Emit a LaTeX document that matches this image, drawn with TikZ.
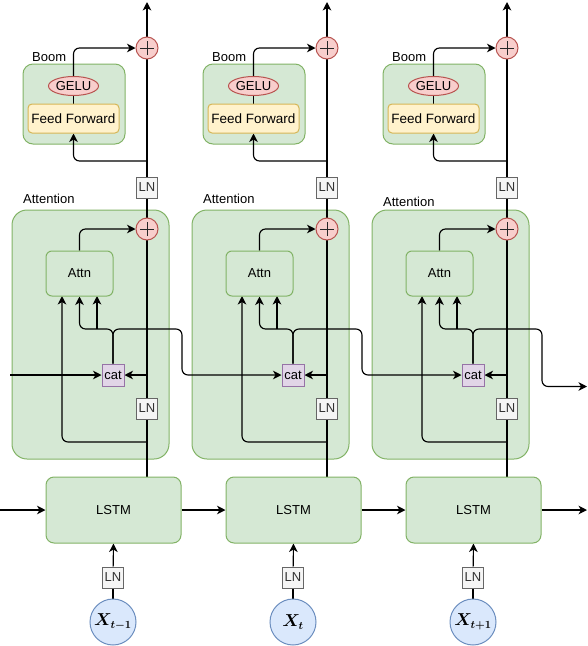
\documentclass[tikz,border=0pt]{standalone}
\usepackage{fontspec}
\setmainfont{Liberation Sans}
\usepackage{bm}
\usetikzlibrary{arrows.meta,shapes.geometric}
\pgfdeclarelayer{cont}
\pgfdeclarelayer{edge}
\pgfsetlayers{cont,edge,main}
\definecolor{gfill}{HTML}{D5E8D4}
\definecolor{gline}{HTML}{82B366}
\definecolor{yfill}{HTML}{FFF2CC}
\definecolor{yline}{HTML}{D6B656}
\definecolor{rfill}{HTML}{F8CECC}
\definecolor{rline}{HTML}{B85450}
\definecolor{pfill}{HTML}{E1D5E7}
\definecolor{pline}{HTML}{9673A6}
\definecolor{bfill}{HTML}{DAE8FC}
\definecolor{bline}{HTML}{6C8EBF}
\definecolor{lnfill}{HTML}{F5F5F5}
\definecolor{lnline}{HTML}{666666}
\definecolor{lntext}{HTML}{333333}
\tikzset{
  contbox/.style={draw=gline, fill=gfill, line width=1pt, inner sep=0pt},
  greenbox/.style={draw=gline, fill=gfill, line width=1pt, inner sep=0pt},
  ffbox/.style={draw=yline, fill=yfill, line width=1pt, rounded corners=4pt, inner sep=0pt,
     minimum width=91, minimum height=29, font=\fontsize{13.5}{15}\selectfont},
  geluel/.style={ellipse, draw=rline, fill=rfill, line width=1pt, inner sep=0pt,
     minimum width=46, minimum height=19},
  plusc/.style={circle, draw=rline, fill=rfill, line width=1pt, inner sep=0pt, minimum size=22,
     path picture={\draw[line width=1pt, black!85]
       ([xshift=-7pt]path picture bounding box.center) -- ([xshift=7pt]path picture bounding box.center)
       ([yshift=-7pt]path picture bounding box.center) -- ([yshift=7pt]path picture bounding box.center);}},
  lnbox/.style={draw=lnline, fill=lnfill, line width=1pt, inner sep=0pt, minimum size=21, text=lntext},
  catbox/.style={draw=pline, fill=pfill, line width=1pt, inner sep=0pt, minimum size=22},
  xcirc/.style={circle, draw=bline, fill=bfill, line width=1pt, inner sep=0pt, minimum size=46,
     font=\fontsize{16}{18}\selectfont},
  conn/.style={line width=1.15pt, rounded corners=6pt},
  arr/.style={conn, -{Stealth[length=8.5pt,width=8.5pt,inset=2.5pt]}},
  lbl/.style={anchor=west, inner sep=0pt}
}
\begin{document}
\begin{tikzpicture}[x=1pt, y=-1pt, font=\fontsize{13}{15}\selectfont]
\useasboundingbox (0,0) rectangle (588,646);
\foreach \i/\lab/\ay in {0/{t-1}/199, 1/{t}/199, 2/{t+1}/202} {
  \pgfmathsetmacro\dx{180*\i}
  \begin{pgfonlayer}{cont}
    \node[contbox, rounded corners=15pt, minimum width=157, minimum height=249] (att\i) at (\dx+90.5, 334.5) {};
    \node[contbox, rounded corners=10pt, minimum width=102, minimum height=80] (boom\i) at (\dx+74, 104) {};
  \end{pgfonlayer}
  \node[lbl] (boomlbl\i) at (\dx+32, 57) {Boom};
  \node[lbl] (attlbl\i) at (\dx+23, \ay) {Attention};
  \node[geluel] (gelu\i) at (\dx+73.5, 86) {GELU};
  \node[ffbox] (ff\i) at (\dx+73.5, 118.5) {Feed Forward};
  \node[plusc] (pb\i) at (\dx+147, 48) {};
  \node[lnbox] (lnu\i) at (\dx+147, 187.5) {LN};
  \node[plusc] (pa\i) at (\dx+147, 229) {};
  \node[greenbox, rounded corners=6pt, minimum width=67, minimum height=45] (attn\i) at (\dx+79.5, 273.5) {Attn};
  \node[catbox] (cat\i) at (\dx+113, 375) {cat};
  \node[lnbox] (lnl\i) at (\dx+147, 408.5) {LN};
  \node[greenbox, rounded corners=8pt, minimum width=135, minimum height=66] (lstm\i) at (\dx+113.5, 510) {LSTM};
  \node[lnbox] (lnb\i) at (\dx+113, 577.5) {LN};
  \node[xcirc] (x\i) at (\dx+113, 622) {$\bm{X_{\lab}}$};
  \coordinate (mb\i) at (\dx+147, 477);
  \coordinate (top\i) at (\dx+147, 2);
  \coordinate (fb\i) at (\dx+147, 161);
  \coordinate (cr\i) at (\dx+147, 375);
  \coordinate (al\i) at (\dx+147, 442);
  \coordinate (br\i) at (\dx+182, 329);
  \coordinate (bl\i) at (\dx+79.5, 329);
  \coordinate (ain\i) at (\dx+97, 296);
  \coordinate (aim\i) at (\dx+97, 329);
  \coordinate (ail\i) at (\dx+62, 296);
  \begin{pgfonlayer}{edge}
    \draw[arr] (mb\i) -- (top\i);
    \draw[arr] (fb\i) -| (ff\i.south);
    \draw[conn] (ff\i.north) -- (gelu\i.south);
    \draw[arr] (gelu\i.north) |- (pb\i.west);
    \draw[arr] (attn\i.north) |- (pa\i.west);
    \draw[arr] (cr\i) -- (cat\i.east);
    \draw[arr] (al\i) -| (ail\i);
    \draw[arr] (cat\i.north) |- (bl\i) -- (attn\i.south);
    \draw[arr] (aim\i) -- (ain\i);
    \draw[conn] (x\i) -- (lnb\i);
    \draw[arr] (lnb\i) -- (lstm\i.south);
  \end{pgfonlayer}
}
\coordinate (inL) at (10, 375);
\coordinate (lin) at (0, 510);
\coordinate (lout) at (587, 510);
\coordinate (cout) at (587, 386.5);
\begin{pgfonlayer}{edge}
  \draw[arr] (inL) -- (cat0.west);
  \draw[arr] (lin) -- (lstm0.west);
  \draw[arr] (lstm0.east) -- (lstm1.west);
  \draw[arr] (lstm1.east) -- (lstm2.west);
  \draw[arr] (lstm2.east) -- (lout);
  \draw[arr] (cat0.north) |- (br0) |- (cat1.west);
  \draw[arr] (cat1.north) |- (br1) |- (cat2.west);
  \draw[arr] (cat2.north) |- (br2) |- (cout);
\end{pgfonlayer}
\end{tikzpicture}
\end{document}
